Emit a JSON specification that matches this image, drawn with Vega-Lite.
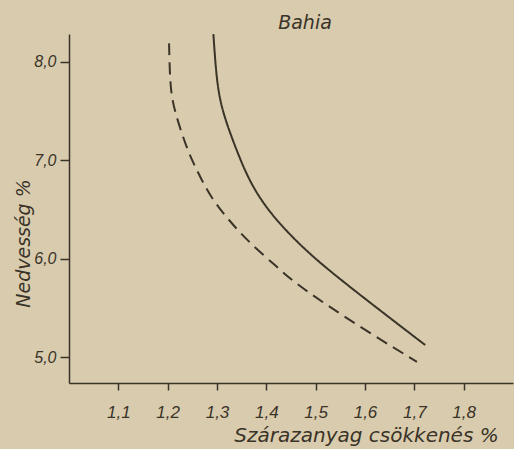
{
  "$schema": "https://vega.github.io/schema/vega-lite/v6.json",
  "width": 444,
  "height": 349,
  "autosize": {"type": "none"},
  "padding": {"left": 69, "top": 34, "right": 1, "bottom": 66},
  "background": "#d9ccae",
  "title": {
    "text": "Bahia",
    "font": "DejaVu Sans",
    "fontStyle": "oblique",
    "fontWeight": "normal",
    "fontSize": 19,
    "color": "#3a3328",
    "anchor": "middle",
    "dx": 14,
    "dy": 22,
    "offset": 4,
    "baseline": "bottom"
  },
  "data": {
    "values": [
      {"series": "solid", "x": 1.2927, "y": 8.279},
      {"series": "solid", "x": 1.2990, "y": 7.812},
      {"series": "solid", "x": 1.3097, "y": 7.508},
      {"series": "solid", "x": 1.3367, "y": 7.136},
      {"series": "solid", "x": 1.3671, "y": 6.765},
      {"series": "solid", "x": 1.4077, "y": 6.460},
      {"series": "solid", "x": 1.4619, "y": 6.170},
      {"series": "solid", "x": 1.5193, "y": 5.910},
      {"series": "solid", "x": 1.6308, "y": 5.475},
      {"series": "solid", "x": 1.7221, "y": 5.125},
      {"series": "dashed", "x": 1.2028, "y": 8.185},
      {"series": "dashed", "x": 1.2049, "y": 7.744},
      {"series": "dashed", "x": 1.2130, "y": 7.508},
      {"series": "dashed", "x": 1.2387, "y": 7.120},
      {"series": "dashed", "x": 1.2556, "y": 6.933},
      {"series": "dashed", "x": 1.2860, "y": 6.629},
      {"series": "dashed", "x": 1.3266, "y": 6.375},
      {"series": "dashed", "x": 1.3671, "y": 6.156},
      {"series": "dashed", "x": 1.4213, "y": 5.919},
      {"series": "dashed", "x": 1.4550, "y": 5.767},
      {"series": "dashed", "x": 1.5227, "y": 5.530},
      {"series": "dashed", "x": 1.6105, "y": 5.243},
      {"series": "dashed", "x": 1.7053, "y": 4.955}
    ]
  },
  "mark": {"type": "line", "interpolate": "basis", "strokeWidth": 2, "color": "#3a3328", "clip": true},
  "encoding": {
    "x": {
      "field": "x",
      "type": "quantitative",
      "scale": {"domain": [1.0, 1.9], "nice": false, "zero": false},
      "axis": {
        "title": "Szárazanyag csökkenés %",
        "values": [1.1, 1.2, 1.3, 1.4, 1.5, 1.6, 1.7, 1.8],
        "labelExpr": "replace(format(datum.value, '.1f'), '.', ',')",
        "grid": false,
        "domainColor": "#3a3328",
        "domainWidth": 1.5,
        "tickColor": "#3a3328",
        "tickWidth": 1.5,
        "tickSize": 7,
        "labelFont": "Liberation Sans",
        "labelFontStyle": "italic",
        "labelFontSize": 17,
        "labelColor": "#3a3328",
        "labelBaseline": "alphabetic",
        "labelPadding": 27,
        "titleFont": "DejaVu Sans",
        "titleFontStyle": "oblique",
        "titleFontWeight": "normal",
        "titleFontSize": 20,
        "titleColor": "#3a3328",
        "titleX": 297,
        "titleY": 58,
        "titleAlign": "center",
        "titleBaseline": "alphabetic"
      }
    },
    "y": {
      "field": "y",
      "type": "quantitative",
      "scale": {"domain": [4.74, 8.28], "nice": false, "zero": false},
      "axis": {
        "title": "Nedvesség %",
        "values": [5, 6, 7, 8],
        "labelExpr": "replace(format(datum.value, '.1f'), '.', ',')",
        "grid": false,
        "domainColor": "#3a3328",
        "domainWidth": 1.5,
        "tickColor": "#3a3328",
        "tickWidth": 1.5,
        "tickSize": 9,
        "labelFont": "Liberation Sans",
        "labelFontStyle": "italic",
        "labelFontSize": 16,
        "labelColor": "#3a3328",
        "labelPadding": 4,
        "titleFont": "DejaVu Sans",
        "titleFontStyle": "oblique",
        "titleFontWeight": "normal",
        "titleFontSize": 19,
        "titleColor": "#3a3328",
        "titleAngle": -90,
        "titleX": -46,
        "titleY": 209,
        "titleAlign": "center",
        "titleBaseline": "middle"
      }
    },
    "detail": {"field": "series"},
    "strokeDash": {
      "field": "series",
      "type": "nominal",
      "scale": {"domain": ["solid", "dashed"], "range": [[1, 0], [12, 7]]},
      "legend": null
    }
  },
  "config": {"view": {"stroke": null}}
}
